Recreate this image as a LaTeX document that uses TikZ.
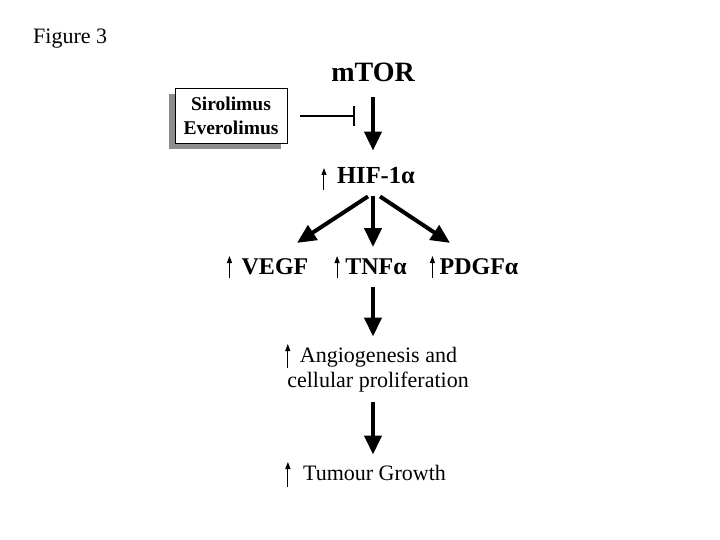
\documentclass[tikz,border=0pt]{standalone}
\usepackage{fontspec}
\setmainfont{Liberation Serif}
\usetikzlibrary{arrows.meta,shadows}
\begin{document}
\begin{tikzpicture}[x=1pt,y=-1pt,
  txt/.style={inner sep=0pt,anchor=base},
  big/.style={line width=4pt,-{Triangle[length=19pt,width=17pt]}},
  uparr/.style={line width=1pt,-{Triangle[length=7pt,width=5pt]}},
  inh/.style={line width=2.5pt,-{Bar[width=20pt,line width=2.5pt]}},
  boldlbl/.style={txt,font=\bfseries\fontsize{24}{28}\selectfont},
  plainlbl/.style={txt,font=\fontsize{22}{26}\selectfont}]
\useasboundingbox (0,0) rectangle (720,540);
\fill[white] (0,0) rectangle (720,540);

\node[txt,anchor=base west,font=\fontsize{22}{26}\selectfont] (fig) at (33,44) {Figure 3};
\node[txt,font=\bfseries\fontsize{28}{32}\selectfont] (mtor) at (373,82) {mTOR};
\node[draw,line width=0.8pt,fill=white,minimum width=112pt,minimum height=55pt,
      align=center,inner sep=0pt,font=\bfseries\fontsize{19.5}{24}\selectfont,
      drop shadow={shadow xshift=-6pt,shadow yshift=-6pt,fill=black!45,opacity=1}]
      (drug) at (231,116) {Sirolimus\\Everolimus};
\node[txt,font=\bfseries\fontsize{24.5}{28}\selectfont] (hif) at (376,184) {HIF-1α};
\node[boldlbl] (vegf) at (275,274) {VEGF};
\node[boldlbl] (tnf) at (376,274) {TNFα};
\node[boldlbl] (pdgf) at (479,274) {PDGFα};
\node[plainlbl] (angio) at (378.5,362) {Angiogenesis and};
\node[plainlbl] (cell) at (378,387) {cellular proliferation};
\node[plainlbl] (tum) at (374.5,480) {Tumour Growth};

\coordinate (blk) at (355,116);
\draw[inh] ([xshift=13pt]drug.east) -- (blk);

\draw[big] ([yshift=-15pt]mtor.south) -- ([xshift=-3pt,yshift=17pt]hif.north);
\draw[big] ([xshift=-8pt,yshift=-12pt]hif.south) -- ([xshift=22pt,yshift=15pt]vegf.north);
\draw[big] ([xshift=-3pt,yshift=-12pt]hif.south) -- ([xshift=-3pt,yshift=11pt]tnf.north);
\draw[big] ([xshift=4pt,yshift=-12pt]hif.south) -- ([xshift=-29pt,yshift=15pt]pdgf.north);
\draw[big] ([xshift=-3pt,yshift=-13pt]tnf.south) -- ([xshift=-5.5pt,yshift=10pt]angio.north);
\draw[big] ([xshift=-5pt,yshift=-10pt]cell.south) -- ([xshift=-1.5pt,yshift=10pt]tum.north);

\draw[uparr] ([xshift=-13pt,yshift=-6pt]hif.base west) -- ++(0,-22);
\draw[uparr] ([xshift=-12pt,yshift=-4pt]vegf.base west) -- ++(0,-22);
\draw[uparr] ([xshift=-8pt,yshift=-4pt]tnf.base west) -- ++(0,-22);
\draw[uparr] ([xshift=-7pt,yshift=-4pt]pdgf.base west) -- ++(0,-22);
\draw[uparr] ([xshift=-12pt,yshift=-6pt]angio.base west) -- ++(0,-24);
\draw[uparr] ([xshift=-15pt,yshift=-7pt]tum.base west) -- ++(0,-25);
\end{tikzpicture}
\end{document}
